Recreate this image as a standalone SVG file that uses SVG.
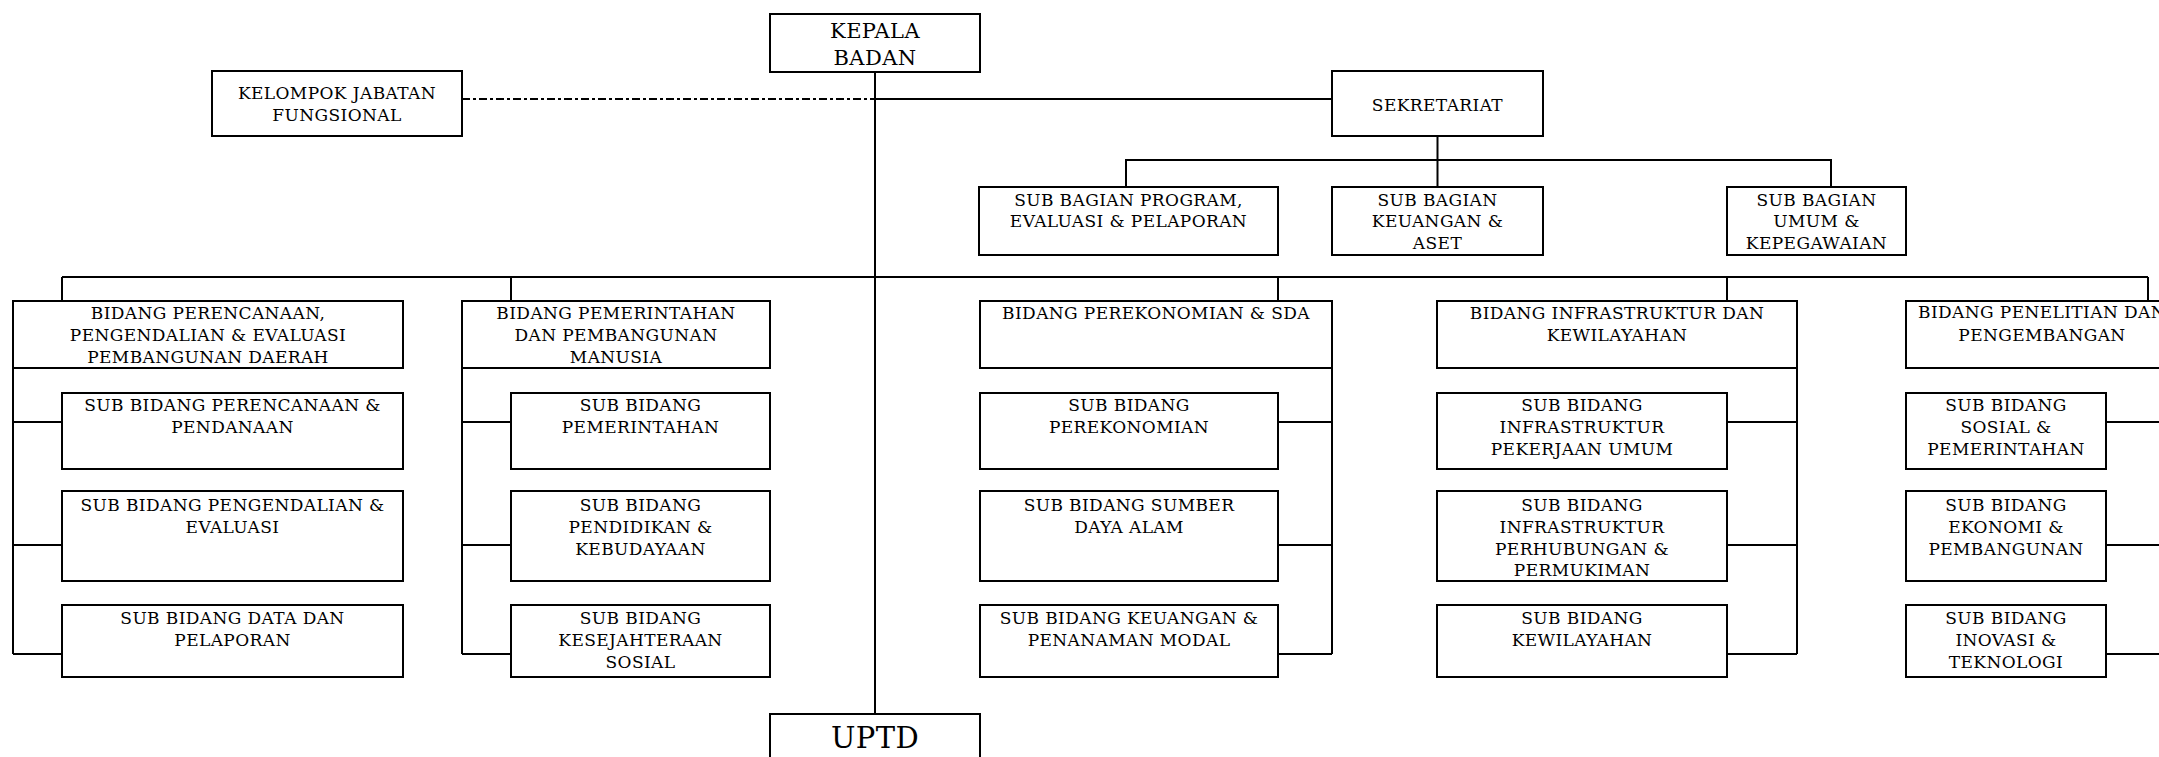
<svg xmlns="http://www.w3.org/2000/svg" width="2159" height="757" viewBox="0 0 2159 757">
<style>
.box{fill:#fff;stroke:#000;stroke-width:2}
.ln{fill:none;stroke:#000;stroke-width:2}
.dash{fill:none;stroke:#000;stroke-width:2;stroke-dasharray:8 3 3 3}
text{font-family:"DejaVu Serif","Liberation Serif",serif;font-size:17px;fill:#000;text-anchor:middle;letter-spacing:0.4px}
.big{font-size:21px}
.huge{font-size:29px}
</style>
<rect width="2159" height="757" fill="#fff"/>
<g id="connectors">
<line class="ln" x1="875" y1="72" x2="875" y2="714"/>
<line class="dash" x1="462" y1="99" x2="875" y2="99"/>
<line class="ln" x1="875" y1="99" x2="1332" y2="99"/>
<line class="ln" x1="1437.5" y1="136" x2="1437.5" y2="187"/>
<polyline class="ln" points="1126,187 1126,160 1831,160 1831,187"/>
<line class="ln" x1="62" y1="277" x2="2148" y2="277"/>
<line class="ln" x1="62" y1="277" x2="62" y2="301"/>
<line class="ln" x1="511" y1="277" x2="511" y2="301"/>
<line class="ln" x1="1278" y1="277" x2="1278" y2="301"/>
<line class="ln" x1="1727" y1="277" x2="1727" y2="301"/>
<line class="ln" x1="2148" y1="277" x2="2148" y2="301"/>
<path class="ln" d="M13,368 V654 M13,422 H62 M13,545 H62 M13,654 H62"/>
<path class="ln" d="M462,368 V654 M462,422 H511 M462,545 H511 M462,654 H511"/>
<path class="ln" d="M1332,368 V654 M1278,422 H1332 M1278,545 H1332 M1278,654 H1332"/>
<path class="ln" d="M1797,368 V654 M1727,422 H1797 M1727,545 H1797 M1727,654 H1797"/>
<path class="ln" d="M2178,368 V654 M2106,422 H2178 M2106,545 H2178 M2106,654 H2178"/>
</g>
<g id="kepala"><rect class="box" x="770" y="14" width="210" height="58"/><text class="big" x="875" y="38">KEPALA</text><text class="big" x="875" y="65">BADAN</text></g>
<g id="kelompok"><rect class="box" x="212" y="71" width="250" height="65"/><text x="337" y="99">KELOMPOK JABATAN</text><text x="337" y="121">FUNGSIONAL</text></g>
<g id="sekretariat"><rect class="box" x="1332" y="71" width="211" height="65"/><text x="1437.5" y="111">SEKRETARIAT</text></g>
<g id="subbag-program"><rect class="box" x="979" y="187" width="299" height="68"/><text x="1128.5" y="205.5">SUB BAGIAN PROGRAM,</text><text x="1128.5" y="227">EVALUASI &amp; PELAPORAN</text></g>
<g id="subbag-keuangan"><rect class="box" x="1332" y="187" width="211" height="68"/><text x="1437.5" y="205.5">SUB BAGIAN</text><text x="1437.5" y="227">KEUANGAN &amp;</text><text x="1437.5" y="249">ASET</text></g>
<g id="subbag-umum"><rect class="box" x="1727" y="187" width="179" height="68"/><text x="1816.5" y="205.5">SUB BAGIAN</text><text x="1816.5" y="227">UMUM &amp;</text><text x="1816.5" y="249">KEPEGAWAIAN</text></g>

<g id="bidang1"><rect class="box" x="13" y="301" width="390" height="67"/><text x="208" y="319">BIDANG PERENCANAAN,</text><text x="208" y="341">PENGENDALIAN &amp; EVALUASI</text><text x="208" y="363">PEMBANGUNAN DAERAH</text></g>
<g id="b1-sub1"><rect class="box" x="62" y="393" width="341" height="76"/><text x="232.5" y="410.5">SUB BIDANG PERENCANAAN &amp;</text><text x="232.5" y="432.5">PENDANAAN</text></g>
<g id="b1-sub2"><rect class="box" x="62" y="491" width="341" height="90"/><text x="232.5" y="511">SUB BIDANG PENGENDALIAN &amp;</text><text x="232.5" y="533">EVALUASI</text></g>
<g id="b1-sub3"><rect class="box" x="62" y="605" width="341" height="72"/><text x="232.5" y="623.5">SUB BIDANG DATA DAN</text><text x="232.5" y="645.5">PELAPORAN</text></g>

<g id="bidang2"><rect class="box" x="462" y="301" width="308" height="67"/><text x="616" y="319">BIDANG PEMERINTAHAN</text><text x="616" y="341">DAN PEMBANGUNAN</text><text x="616" y="363">MANUSIA</text></g>
<g id="b2-sub1"><rect class="box" x="511" y="393" width="259" height="76"/><text x="640.5" y="410.5">SUB BIDANG</text><text x="640.5" y="432.5">PEMERINTAHAN</text></g>
<g id="b2-sub2"><rect class="box" x="511" y="491" width="259" height="90"/><text x="640.5" y="511">SUB BIDANG</text><text x="640.5" y="533">PENDIDIKAN &amp;</text><text x="640.5" y="555">KEBUDAYAAN</text></g>
<g id="b2-sub3"><rect class="box" x="511" y="605" width="259" height="72"/><text x="640.5" y="623.5">SUB BIDANG</text><text x="640.5" y="645.5">KESEJAHTERAAN</text><text x="640.5" y="667.5">SOSIAL</text></g>

<g id="bidang3"><rect class="box" x="980" y="301" width="352" height="67"/><text x="1156" y="319">BIDANG PEREKONOMIAN &amp; SDA</text></g>
<g id="b3-sub1"><rect class="box" x="980" y="393" width="298" height="76"/><text x="1129" y="410.5">SUB BIDANG</text><text x="1129" y="432.5">PEREKONOMIAN</text></g>
<g id="b3-sub2"><rect class="box" x="980" y="491" width="298" height="90"/><text x="1129" y="511">SUB BIDANG SUMBER</text><text x="1129" y="533">DAYA ALAM</text></g>
<g id="b3-sub3"><rect class="box" x="980" y="605" width="298" height="72"/><text x="1129" y="623.5">SUB BIDANG KEUANGAN &amp;</text><text x="1129" y="645.5">PENANAMAN MODAL</text></g>

<g id="bidang4"><rect class="box" x="1437" y="301" width="360" height="67"/><text x="1617" y="319">BIDANG INFRASTRUKTUR DAN</text><text x="1617" y="341">KEWILAYAHAN</text></g>
<g id="b4-sub1"><rect class="box" x="1437" y="393" width="290" height="76"/><text x="1582" y="410.5">SUB BIDANG</text><text x="1582" y="432.5">INFRASTRUKTUR</text><text x="1582" y="454.5">PEKERJAAN UMUM</text></g>
<g id="b4-sub2"><rect class="box" x="1437" y="491" width="290" height="90"/><text x="1582" y="511">SUB BIDANG</text><text x="1582" y="532.8">INFRASTRUKTUR</text><text x="1582" y="554.6">PERHUBUNGAN &amp;</text><text x="1582" y="576.4">PERMUKIMAN</text></g>
<g id="b4-sub3"><rect class="box" x="1437" y="605" width="290" height="72"/><text x="1582" y="623.5">SUB BIDANG</text><text x="1582" y="645.5">KEWILAYAHAN</text></g>

<g id="bidang5"><rect class="box" x="1906" y="301" width="272" height="67"/><text x="2042" y="318">BIDANG PENELITIAN DAN</text><text x="2042" y="341">PENGEMBANGAN</text></g>
<g id="b5-sub1"><rect class="box" x="1906" y="393" width="200" height="76"/><text x="2006" y="410.5">SUB BIDANG</text><text x="2006" y="432.5">SOSIAL &amp;</text><text x="2006" y="454.5">PEMERINTAHAN</text></g>
<g id="b5-sub2"><rect class="box" x="1906" y="491" width="200" height="90"/><text x="2006" y="511">SUB BIDANG</text><text x="2006" y="533">EKONOMI &amp;</text><text x="2006" y="555">PEMBANGUNAN</text></g>
<g id="b5-sub3"><rect class="box" x="1906" y="605" width="200" height="72"/><text x="2006" y="623.5">SUB BIDANG</text><text x="2006" y="645.5">INOVASI &amp;</text><text x="2006" y="667.5">TEKNOLOGI</text></g>

<g id="uptd"><rect class="box" x="770" y="714" width="210" height="60"/><text class="huge" x="875" y="748">UPTD</text></g>
</svg>
